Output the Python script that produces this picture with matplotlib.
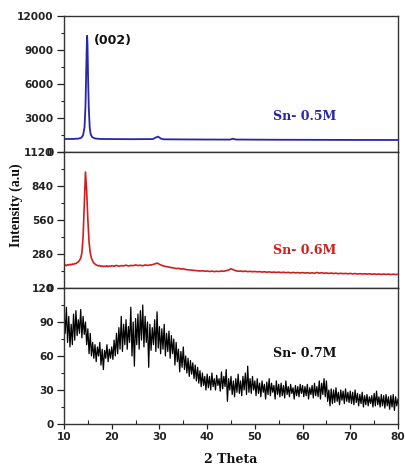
import numpy as np
import matplotlib
matplotlib.use("Agg")
import matplotlib.pyplot as plt
from matplotlib.ticker import MultipleLocator

# ---------------- data ----------------
# Sn-0.5M (blue)
x_05 = [10, 11, 12, 13, 13.6, 14.0, 14.3, 14.5, 14.65, 14.78, 14.85, 14.93, 15.05,
        15.2, 15.4, 15.6, 15.9, 16.4, 17.5, 20, 24, 28.6, 29.3, 29.7, 30.3, 31,
        35, 40, 44.8, 45.4, 46, 50, 55, 60, 65, 70, 75, 80]
y_05 = [1150, 1150, 1155, 1180, 1250, 1480, 2200, 4000, 7000, 9600, 10250, 9400, 6500,
        3800, 2100, 1550, 1320, 1200, 1150, 1140, 1130, 1140, 1290, 1360, 1180, 1120,
        1110, 1100, 1095, 1170, 1100, 1090, 1080, 1075, 1070, 1065, 1062, 1060]

# Sn-0.6M (red)
x_06 = list(np.arange(10, 20.01, 0.25)) + list(np.arange(20.5, 80.01, 0.5))
y_06 = [186, 190, 184, 192, 188, 195, 190, 198, 195, 202, 200, 210, 215, 228, 245, 290,
        420, 680, 955, 800, 560, 380, 290, 245, 222, 205, 198, 190, 186, 182, 185, 178,
        182, 176, 180, 177, 183, 176, 181, 178, 183,
        180, 186, 179, 184, 182, 188, 181, 186, 184, 190, 185, 188, 183, 190, 186, 189,
        192, 198, 205,
        196, 186, 180, 176, 172, 168, 165, 160, 162, 156, 158, 152, 150, 148, 146, 144,
        142, 140, 142, 138,
        140, 136, 139, 135, 138, 136, 140, 138, 143, 148, 158, 150, 142, 138, 140, 136,
        139, 135, 137, 134,
        136, 133, 135, 131, 134, 130, 133, 129, 131, 128, 131, 127, 130, 126, 129, 125,
        128, 125, 127, 124,
        127, 123, 126, 122, 125, 121, 128, 122, 126, 121, 124, 120, 123, 119, 122, 118,
        121, 118, 120, 117,
        120, 116, 119, 115, 118, 115, 117, 114, 117, 113, 116, 113, 115, 112, 115, 112,
        114, 111, 114, 111, 113]

# Sn-0.7M (black)
x_07 = np.arange(10, 80.01, 0.25)
y_07 = [98, 80, 103, 72, 95, 68, 88, 70, 97, 74, 100, 78, 92, 80, 101, 76, 95, 79, 90, 70,
        84, 62, 80, 60, 72, 58, 70, 55, 68, 60, 72, 52, 66, 48, 65, 58, 70, 55, 66, 58,
        68, 57, 74, 60, 80, 62, 85, 66, 95, 64, 88, 70, 92, 66, 86, 72, 103, 60, 90, 51,
        93, 70, 97, 66, 100, 74, 105, 68, 95, 72, 90, 50, 88, 65, 85, 70, 92, 64, 99, 67,
        86, 62, 84, 66, 88, 60, 80, 64, 82, 58, 78, 62, 75, 52, 72, 55, 66, 46, 64, 50,
        68, 48, 60, 45, 58, 42, 56, 44, 54, 40, 52, 38, 50, 36, 47, 33, 45, 34, 42, 30,
        44, 32, 42, 30, 45, 33, 40, 30, 43, 34, 40, 29, 46, 31, 42, 33, 48, 20, 40, 30,
        42, 26, 38, 24, 40, 28, 44, 27, 38, 25, 42, 30, 45, 26, 51, 28, 40, 27, 42, 30,
        38, 25, 40, 27, 36, 24, 38, 28, 35, 22, 37, 26, 40, 25, 36, 28, 34, 22, 38, 26,
        35, 24, 36, 25, 34, 23, 38, 26, 33, 24, 35, 27, 32, 22, 34, 25, 33, 24, 35, 27,
        34, 24, 33, 25, 35, 22, 32, 26, 34, 23, 36, 25, 33, 24, 38, 22, 36, 26, 40, 24,
        38, 20, 30, 16, 31, 18, 30, 19, 32, 20, 28, 17, 30, 21, 29, 18, 31, 20, 28, 19,
        29, 18, 28, 17, 30, 19, 27, 16, 26, 18, 28, 15, 25, 17, 26, 16, 24, 18, 25, 15,
        27, 16, 29, 17, 24, 15, 26, 16, 25, 14, 26, 16, 24, 13, 25, 15, 26, 12, 24, 16,
        22]

labels = ["Sn- 0.5M", "Sn- 0.6M", "Sn- 0.7M"]
yticks_05 = [0, 3000, 6000, 9000, 12000]
yticks_06 = [0, 280, 560, 840, 1120]
yticks_07 = [0, 30, 60, 90, 120]
xticks = [10, 20, 30, 40, 50, 60, 70, 80]

# ---------------- figure ----------------
W, H = 405, 466
fig = plt.figure(figsize=(W / 100, H / 100), dpi=100)
left, right, top, bottom = 64 / W, 398 / W, 1 - 16 / H, 1 - 424 / H
gs = fig.add_gridspec(3, 1, left=left, right=right, top=top, bottom=bottom, hspace=0)
ax1 = fig.add_subplot(gs[0])
ax2 = fig.add_subplot(gs[1], sharex=ax1)
ax3 = fig.add_subplot(gs[2], sharex=ax1)

blue = "#2626a8"
red = "#d01e1e"
sans = dict(family="DejaVu Sans", weight="bold")
serif = dict(family="DejaVu Serif", weight="bold")

ax1.plot(x_05, y_05, color=blue, lw=1.3)
ax2.plot(x_06, y_06, color=red, lw=1.2)
ax3.plot(x_07, y_07, color="black", lw=0.9)

for ax, yt in zip((ax1, ax2, ax3), (yticks_05, yticks_06, yticks_07)):
    ax.set_ylim(yt[0], yt[-1])
    ax.set_yticks(yt)
    ax.yaxis.set_minor_locator(MultipleLocator((yt[1] - yt[0]) / 2))
    ax.tick_params(axis="y", which="major", direction="out", length=5, width=0.9,
                   pad=2.5, labelsize=7.6, colors="#222222")
    ax.tick_params(axis="y", which="minor", direction="out", length=2.5, width=0.8,
                   colors="#222222")
    for lab in ax.get_yticklabels():
        lab.set_fontfamily("DejaVu Sans")
        lab.set_fontweight("bold")
    for s in ax.spines.values():
        s.set_linewidth(1.0)
        s.set_color("#333333")

ax3.set_xlim(10, 80)
ax3.set_xticks(xticks)
ax3.xaxis.set_minor_locator(MultipleLocator(5))
for ax in (ax1, ax2):
    ax.tick_params(axis="x", which="both", bottom=False, labelbottom=False)
ax3.tick_params(axis="x", which="major", direction="out", length=3.5, width=0.9,
                pad=2.5, labelsize=7.6, colors="#222222")
ax3.tick_params(axis="x", which="minor", direction="in", length=3, width=0.8,
                colors="#222222")
for lab in ax3.get_xticklabels():
    lab.set_fontfamily("DejaVu Sans")
    lab.set_fontweight("bold")

ax1.text(20.3, 9820, "(002)", ha="center", va="center", fontsize=9, color="#111111", **sans)
ax1.text(60.4, 3100, labels[0], ha="center", va="center", fontsize=9, color=blue, **serif)
ax2.text(60.4, 311, labels[1], ha="center", va="center", fontsize=9, color=red, **serif)
ax3.text(60.5, 61.8, labels[2], ha="center", va="center", fontsize=9, color="#111111", **serif)

fig.text(231 / W, 3 / H, "2 Theta", ha="center", va="baseline", fontsize=9,
         color="#111111", **serif)
fig.text(16 / W, 1 - 205 / H, "Intensity (a.u)", ha="center", va="center", rotation=90,
         fontsize=10, color="#111111", family="Liberation Serif", weight="bold")

fig.savefig("out.png", dpi=100)
